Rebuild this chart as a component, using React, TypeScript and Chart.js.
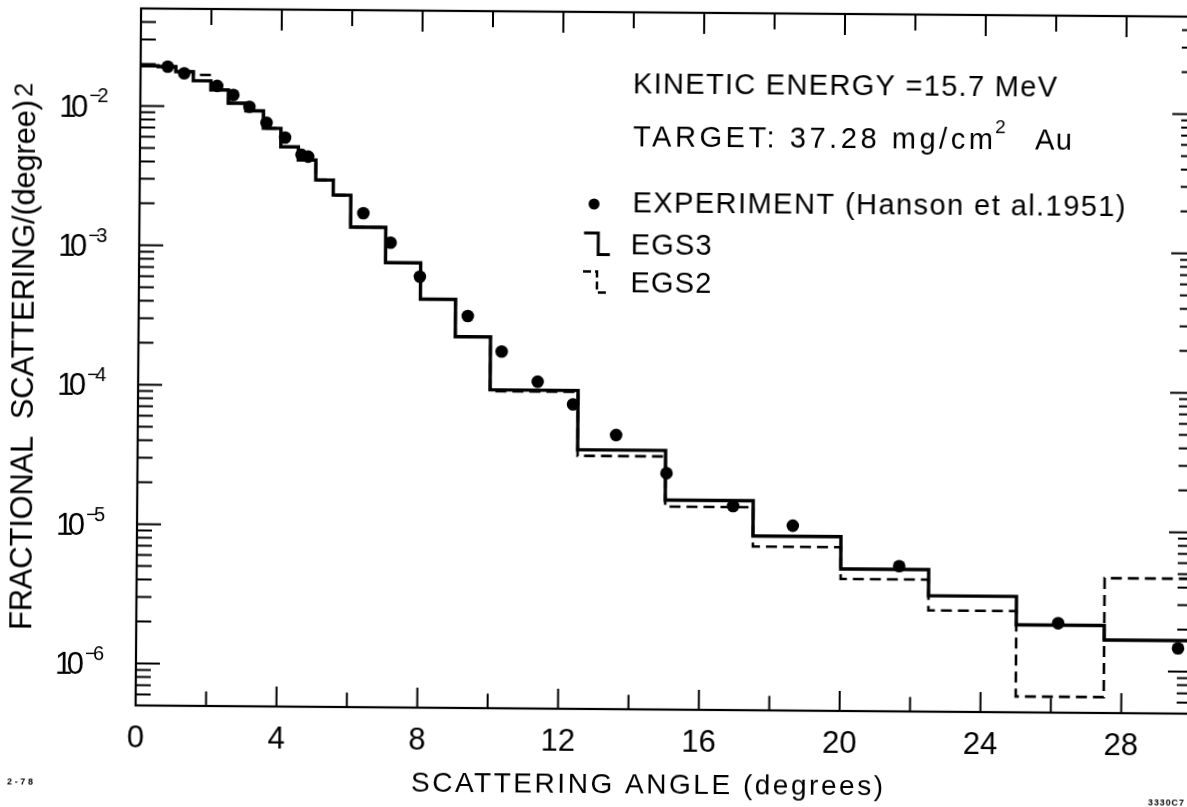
import React, { useEffect, useRef } from "react";
import { Chart, registerables } from "chart.js";

Chart.register(...registerables);

// ---------------- data ----------------
const binEdges = [0, 0.5, 1, 1.5, 2, 2.5, 3, 3.5, 4, 4.5, 5, 5.5, 6, 7, 8, 9, 10, 12.5, 15, 17.5, 20, 22.5, 25, 27.5, 30];
const egs3Values = [0.0194, 0.0192, 0.0177, 0.01525, 0.01315, 0.01059, 0.00935, 0.00702, 0.00518, 0.00418, 0.00301, 0.00235, 0.001387, 7.76e-4, 4.26e-4, 2.3e-4, 9.61e-5, 3.61e-5, 1.59e-5, 8.89e-6, 5.22e-6, 3.39e-6, 2.12e-6, 1.67e-6];
const egs2Values = [0.0194, 0.0192, 0.0177, 0.01682, 0.01315, 0.01059, 0.00935, 0.00702, 0.00518, 0.00418, 0.00301, 0.00235, 0.001387, 7.76e-4, 4.26e-4, 2.3e-4, 9.4e-5, 3.27e-5, 1.43e-5, 7.48e-6, 4.42e-6, 2.66e-6, 6.5e-7, 4.64e-6];
const expAngles = [0.77, 1.24, 2.18, 2.64, 3.1, 3.59, 4.12, 4.59, 4.78, 6.36, 7.14, 7.98, 9.35, 10.32, 11.35, 12.36, 13.59, 15.03, 16.93, 18.63, 21.66, 26.19, 29.6];
const expValues = [0.0192, 0.01725, 0.01404, 0.01213, 0.00998, 0.0077, 0.00604, 0.00455, 0.00442, 0.00175, 0.00108, 6.17e-4, 3.24e-4, 1.81e-4, 1.107e-4, 7.64e-5, 4.63e-5, 2.48e-5, 1.455e-5, 1.06e-5, 5.51e-6, 2.19e-6, 1.47e-6];
const xTickLabels = [0, 4, 8, 12, 16, 20, 24, 28];
const xTickMarks = [2, 4, 6, 8, 10, 12, 14, 16, 18, 20, 22, 24, 26, 28];
const yTickExponents = [-2, -3, -4, -5, -6];
const yTickMultipliers = [1, 2, 3, 4, 5, 6, 7, 8, 9];
const yDecadeRange = [-7, -6, -5, -4, -3, -2];

const X_MIN = 0;
const X_MAX = 30;
const Y_MIN = 5e-7;
const Y_MAX = 5e-2;

const FONT = '"Liberation Sans", Arial, sans-serif';
const CAP = 0.716;

function histogram(values: number[]) {
  const pts = values.map((v, i) => ({ x: binEdges[i], y: v }));
  pts.push({ x: binEdges[values.length], y: values[values.length - 1] });
  return pts;
}

function drawFit(ctx: CanvasRenderingContext2D, text: string, left: number, baseline: number, width: number, font: string) {
  ctx.font = font;
  (ctx as any).letterSpacing = "0px";
  const n = Array.from(text).length;
  const w = ctx.measureText(text).width;
  const ls = n > 1 ? (width - w) / (n - 1) : 0;
  (ctx as any).letterSpacing = `${ls}px`;
  ctx.textAlign = "left";
  ctx.textBaseline = "alphabetic";
  ctx.fillText(text, left, baseline);
  (ctx as any).letterSpacing = "0px";
}

const framePlugin = {
  id: "frameAndText",
  afterDraw(chart: any) {
    const { ctx, chartArea: a } = chart;
    const xs = chart.scales.x;
    const ys = chart.scales.y;
    ctx.save();
    ctx.strokeStyle = "#000";
    ctx.fillStyle = "#000";
    ctx.setLineDash([]);

    // frame
    ctx.lineWidth = 2.2;
    ctx.strokeRect(a.left, a.top, a.right - a.left, a.bottom - a.top);

    // ticks (inward)
    ctx.lineWidth = 2;
    ctx.beginPath();
    for (const t of xTickMarks) {
      const px = xs.getPixelForValue(t);
      const major = xTickLabels.includes(t);
      ctx.moveTo(px, a.bottom);
      ctx.lineTo(px, a.bottom - (major ? 20 : 14.5));
      ctx.moveTo(px, a.top);
      ctx.lineTo(px, a.top + (major ? 21 : 16));
    }
    for (const e of yDecadeRange) {
      for (const m of yTickMultipliers) {
        const v = m * Math.pow(10, e);
        if (v <= Y_MIN * 1.001 || v >= Y_MAX * 0.999) continue;
        const py = ys.getPixelForValue(v);
        const len = m === 1 ? 24 : 15;
        ctx.moveTo(a.left, py);
        ctx.lineTo(a.left + len, py);
        ctx.moveTo(a.right, py);
        ctx.lineTo(a.right - len, py);
      }
    }
    ctx.stroke();

    // y tick labels 10^-n
    for (const e of yTickExponents) {
      const py = ys.getPixelForValue(Math.pow(10, e));
      drawFit(ctx, "10", a.left - 81, py + (31 * CAP) / 2, 29, `31px ${FONT}`);
      drawFit(ctx, `\u2212${-e}`, a.left - 51, py - 3, 19, `20px ${FONT}`);
    }

    // x tick labels
    ctx.font = `31px ${FONT}`;
    ctx.textAlign = "center";
    ctx.textBaseline = "alphabetic";
    for (const t of xTickLabels) {
      const px = xs.getPixelForValue(t);
      ctx.fillText(String(t), px, a.bottom + 31.3 + (31 * CAP) / 2);
    }

    // x title
    drawFit(ctx, "SCATTERING ANGLE (degrees)", 414, 792.6, 472, `28px ${FONT}`);

    // y title (rotated)
    ctx.save();
    ctx.translate(33.2, 634.5);
    ctx.rotate(-Math.PI / 2);
    drawFit(ctx, "FRACTIONAL  SCATTERING/(degree)", 0, 0, 530, `31px ${FONT}`);
    drawFit(ctx, "2", 533.3, -3.5, 16.7, `25px ${FONT}`);
    ctx.restore();

    // annotation block
    const f29 = `29px ${FONT}`;
    const half = (29 * CAP) / 2;
    drawFit(ctx, "KINETIC ENERGY =15.7 MeV", 630.5, 82.2 + half, 424, f29);
    drawFit(ctx, "TARGET: 37.28 mg/cm", 630.9, 135.2 + half, 360, f29);
    drawFit(ctx, "2", 993, 129.5, 13, `19px ${FONT}`);
    drawFit(ctx, "Au", 1033, 135.2 + half, 37, f29);

    // legend
    drawFit(ctx, "EXPERIMENT (Hanson et al.1951)", 631, 201.5 + half, 493, f29);
    ctx.beginPath();
    ctx.arc(592.5, 204, 5.5, 0, Math.PI * 2);
    ctx.fill();

    drawFit(ctx, "EGS3", 629.5, 243.6 + half, 81, f29);
    ctx.lineWidth = 3;
    ctx.beginPath();
    ctx.moveTo(582.7, 233);
    ctx.lineTo(597, 233);
    ctx.lineTo(597, 254.5);
    ctx.lineTo(608.7, 254.5);
    ctx.stroke();

    drawFit(ctx, "EGS2", 629.5, 281.4 + half, 81, f29);
    ctx.lineWidth = 2.5;
    ctx.setLineDash([8, 4]);
    ctx.beginPath();
    ctx.moveTo(582, 271.5);
    ctx.lineTo(596, 271.5);
    ctx.lineTo(596, 292.5);
    ctx.lineTo(609, 292.5);
    ctx.stroke();
    ctx.setLineDash([]);

    // figure codes
    drawFit(ctx, "2-78", 10, 788.5, 26, `bold 9px ${FONT}`);
    drawFit(ctx, "3330C7", 1151, 801, 36, `bold 9px ${FONT}`);

    ctx.restore();
  },
};

export default function App() {
  const ref = useRef<HTMLCanvasElement>(null);
  useEffect(() => {
    const canvas = ref.current;
    if (!canvas) return;
    const chart = new Chart(canvas, {
      type: "line",
      data: {
        datasets: [
          {
            label: "EXPERIMENT (Hanson et al. 1951)",
            data: expAngles.map((x, i) => ({ x, y: expValues[i] })),
            showLine: false,
            pointRadius: 6.3,
            pointHoverRadius: 6.3,
            pointBackgroundColor: "#000",
            pointBorderColor: "#000",
            pointBorderWidth: 0,
            order: 0,
          },
          {
            label: "EGS3",
            data: histogram(egs3Values),
            stepped: "before",
            borderColor: "#000",
            borderWidth: 3.4,
            pointRadius: 0,
            fill: false,
            order: 1,
          },
          {
            label: "EGS2",
            data: histogram(egs2Values),
            stepped: "before",
            borderColor: "#000",
            borderWidth: 2.6,
            borderDash: [11, 6],
            pointRadius: 0,
            fill: false,
            order: 2,
          },
        ],
      } as any,
      options: {
        animation: false,
        responsive: false,
        devicePixelRatio: 1,
        events: [],
        layout: { padding: { left: 138, top: 12, right: 16, bottom: 121 } },
        scales: {
          x: { type: "linear", min: X_MIN, max: X_MAX, display: false },
          y: { type: "logarithmic", min: Y_MIN, max: Y_MAX, display: false },
        },
        plugins: { legend: { display: false }, tooltip: { enabled: false } },
      } as any,
      plugins: [framePlugin],
    });
    return () => chart.destroy();
  }, []);

  return (
    <div
      style={{
        position: "absolute",
        left: 0,
        top: 0,
        width: 1187,
        height: 807,
        overflow: "hidden",
        background: "#fff",
      }}
    >
      <canvas
        ref={ref}
        width={1210}
        height={830}
        style={{
          width: 1210,
          height: 830,
          display: "block",
          transform: "rotate(0.45deg)",
          transformOrigin: "593px 403px",
        }}
      />
    </div>
  );
}
